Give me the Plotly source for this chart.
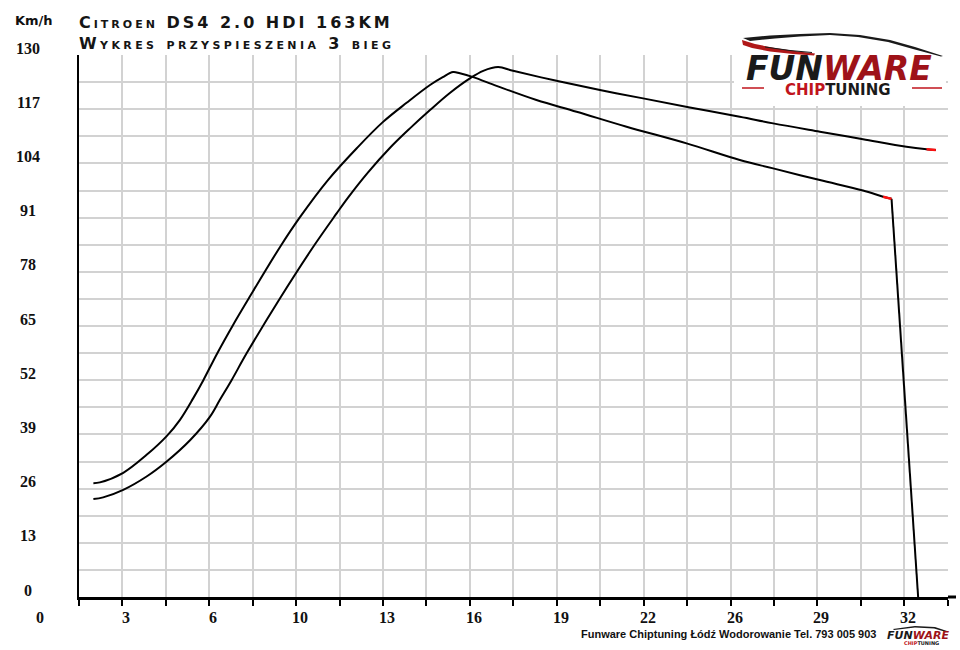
import plotly.graph_objects as go

# ---------------- data ----------------
time_a = [2.13, 2.37, 3.23, 4.09, 4.83, 5.32, 5.81, 6.18, 6.68, 7.27, 7.86, 9.00, 9.74, 10.77,
          11.84, 12.79, 13.68, 14.53, 15.00, 15.38, 15.63, 16.12, 16.98, 18.45, 19.93, 21.77,
          23.98, 25.94, 27.17, 28.89, 30.48, 31.22, 31.53, 32.51]
speed_a = [27.3, 27.5, 29.8, 34.1, 38.6, 42.5, 47.7, 52.0, 58.3, 65.2, 71.7, 83.9, 91.1, 100.0,
           107.7, 113.9, 118.6, 122.8, 124.7, 125.9, 125.6, 124.7, 122.6, 119.2, 116.4, 112.8,
           108.8, 104.8, 102.8, 100.0, 97.5, 96.0, 95.5, 0.0]

time_b = [2.13, 2.49, 3.23, 4.09, 4.83, 5.69, 6.42, 6.79, 7.22, 7.78, 9.00, 10.23, 11.09, 11.51,
          12.24, 13.05, 13.79, 14.53, 15.26, 16.00, 16.49, 17.04, 17.59, 19.19, 20.79, 22.38,
          24.10, 25.94, 27.17, 28.89, 30.48, 32.08, 32.82, 33.16]
speed_b = [23.5, 23.9, 25.7, 28.9, 32.5, 37.6, 43.2, 47.3, 52.0, 58.5, 71.6, 84.0, 92.0, 95.8,
           101.8, 107.7, 112.4, 116.8, 120.9, 124.4, 126.2, 127.1, 126.2, 123.8, 121.6, 119.6,
           117.4, 115.2, 113.6, 111.6, 109.8, 108.0, 107.4, 107.2]

x_tick_values = [0, 3.2, 6.4, 9.6, 12.8, 16.0, 19.2, 22.4, 25.6, 28.8, 32.0]
x_tick_labels = ["0", "3", "6", "10", "13", "16", "19", "22", "26", "29", "32"]
y_tick_values = [0, 13, 26, 39, 52, 65, 78, 91, 104, 117, 130]
y_tick_labels = ["0", "13", "26", "39", "52", "65", "78", "91", "104", "117", "130"]

title_line1 = "Citroen DS4 2.0 HDI 163KM"
title_line2 = "Wykres przyspieszenia 3 bieg"
footer_text = "Funware Chiptuning Łódź Wodorowanie Tel. 793 005 903"

# ---------------- layout geometry ----------------
W, H = 960, 650
L, R, T, B = 79, 948, 55, 597
X0, X1 = 1.6, 33.61


def px(xp):
    return (xp - L) / (R - L)


def py(yp):
    return (B - yp) / (B - T)


def xfrac(v):
    return (v - X0) / (X1 - X0)


fig = go.Figure()

line_main = dict(color="black", width=2, shape="spline", smoothing=1.0)
# curve A: smooth part up to the red end, then straight drop
fig.add_trace(go.Scatter(x=time_a[:-1], y=speed_a[:-1], mode="lines", line=line_main,
                         hoverinfo="skip", showlegend=False))
fig.add_trace(go.Scatter(x=time_a[-2:], y=speed_a[-2:], mode="lines",
                         line=dict(color="black", width=2), hoverinfo="skip", showlegend=False))
fig.add_trace(go.Scatter(x=time_b, y=speed_b, mode="lines", line=line_main,
                         hoverinfo="skip", showlegend=False))
# red end segments
fig.add_trace(go.Scatter(x=time_a[-3:-1], y=speed_a[-3:-1], mode="lines",
                         line=dict(color="#ff1010", width=2.5), hoverinfo="skip", showlegend=False))
fig.add_trace(go.Scatter(x=time_b[-2:], y=speed_b[-2:], mode="lines",
                         line=dict(color="#ff1010", width=2.5), hoverinfo="skip", showlegend=False))

annotations = []
label_font = dict(family="Liberation Serif", size=16, color="#111111", weight="bold")
for v, t in zip(x_tick_values, x_tick_labels):
    annotations.append(dict(x=xfrac(v), y=py(617), xref="paper", yref="paper", text=t,
                            showarrow=False, xanchor="center", yanchor="middle", xshift=4,
                            font=label_font))
for v, t in zip(y_tick_values, y_tick_labels):
    annotations.append(dict(x=px(28), y=v, xref="paper", yref="y", text=t,
                            showarrow=False, xanchor="center", yanchor="middle", yshift=7,
                            font=label_font))

annotations.append(dict(x=px(34), y=py(21), xref="paper", yref="paper", text="Km/h",
                        showarrow=False, xanchor="center", yanchor="middle",
                        font=dict(family="DejaVu Sans", size=13, color="#111111", weight="bold")))

title_font = dict(family="DejaVu Sans", size=16, color="#151515", variant="small-caps",
                  weight="bold")
annotations.append(dict(x=px(77), y=py(23), xref="paper", yref="paper",
                        text="<span style='letter-spacing:3px'>" + title_line1 + "</span>",
                        showarrow=False, xanchor="left", yanchor="middle", font=title_font))
annotations.append(dict(x=px(77), y=py(43), xref="paper", yref="paper",
                        text="<span style='letter-spacing:3.4px'>" + title_line2 + "</span>",
                        showarrow=False, xanchor="left", yanchor="middle", font=title_font))

# logo texts
annotations.append(dict(x=px(839), y=py(68), xref="paper", yref="paper",
                        text="<i>FUN<span style='color:#9e1218'>WARE</span></i>",
                        showarrow=False, xanchor="center", yanchor="middle",
                        font=dict(family="DejaVu Sans", size=33, color="#1a1a1a", weight="bold")))
annotations.append(dict(x=px(838), y=py(90), xref="paper", yref="paper",
                        text="<span style='color:#c0141c'>CHIP</span>TUNING",
                        showarrow=False, xanchor="center", yanchor="middle",
                        font=dict(family="DejaVu Sans", size=15, color="#1a1a1a", weight="bold")))

# footer
annotations.append(dict(x=px(878), y=py(634), xref="paper", yref="paper", text=footer_text,
                        showarrow=False, xanchor="right", yanchor="middle",
                        font=dict(family="Liberation Sans", size=11, color="#111111", weight="bold")))
annotations.append(dict(x=px(918), y=py(635), xref="paper", yref="paper",
                        text="<i>FUN<span style='color:#9e1218'>WARE</span></i>",
                        showarrow=False, xanchor="center", yanchor="middle",
                        font=dict(family="DejaVu Sans", size=11, color="#1a1a1a", weight="bold")))
annotations.append(dict(x=px(921), y=py(643), xref="paper", yref="paper",
                        text="<span style='color:#c0141c'>CHIP</span>TUNING",
                        showarrow=False, xanchor="center", yanchor="middle",
                        font=dict(family="DejaVu Sans", size=5, color="#1a1a1a", weight="bold")))


def path(points, close=True):
    s = "M " + " L ".join(f"{px(a):.4f},{py(b):.4f}" for a, b in points)
    return s + (" Z" if close else "")


shapes = [
    # white box behind logo
    dict(type="rect", xref="paper", yref="paper", x0=px(734), x1=px(946), y0=py(106), y1=py(24),
         fillcolor="white", line=dict(width=0), layer="above"),
    # car roof swoosh (black)
    dict(type="path", xref="paper", yref="paper", layer="above",
         path=path([(743, 38), (770, 35.5), (800, 34), (830, 33), (860, 35), (890, 40), (915, 47),
                    (943, 56), (941, 56.5), (913, 49), (888, 42), (858, 37), (830, 35), (800, 36.5),
                    (775, 38.5), (750, 41)]),
         fillcolor="#1a1a1a", line=dict(width=0)),
    # red swoosh
    dict(type="path", xref="paper", yref="paper", layer="above",
         path=path([(742, 40), (755, 44), (775, 48), (795, 51), (815, 53.5), (814, 55.5),
                    (793, 54), (770, 51.5), (752, 48), (743, 45)]),
         fillcolor="#b01818", line=dict(width=0)),
    # thin dark line under red swoosh
    dict(type="path", xref="paper", yref="paper", layer="above",
         path=path([(765, 47), (790, 50.5), (812, 52.5)], close=False),
         line=dict(color="#1a1a1a", width=1)),
    # red side lines beside CHIPTUNING
    dict(type="line", xref="paper", yref="paper", x0=px(742), x1=px(764), y0=py(88), y1=py(88),
         line=dict(color="#c0141c", width=1.5), layer="above"),
    dict(type="line", xref="paper", yref="paper", x0=px(912), x1=px(942), y0=py(88), y1=py(88),
         line=dict(color="#c0141c", width=1.5), layer="above"),
    # small footer swoosh
    dict(type="path", xref="paper", yref="paper", layer="above",
         path=path([(893, 629), (915, 626), (935, 627), (947, 631), (946, 632), (934, 628.5),
                    (915, 627.5), (894, 630)]),
         fillcolor="#1a1a1a", line=dict(width=0)),
    # bottom axis extension to the right
    dict(type="line", xref="paper", yref="paper", x0=1, x1=px(956), y0=0, y1=0,
         line=dict(color="black", width=3), layer="above"),
]

fig.update_layout(
    width=W, height=H,
    margin=dict(l=L, r=W - R, t=T, b=H - B, pad=0),
    paper_bgcolor="white", plot_bgcolor="white",
    showlegend=False,
    annotations=annotations,
    shapes=shapes,
)
fig.update_xaxes(range=[X0, X1], tick0=1.6, dtick=1.6, showticklabels=False,
                 showgrid=True, gridcolor="#d2d2d2", gridwidth=1.5,
                 showline=True, linecolor="black", linewidth=3,
                 ticks="outside", ticklen=6, tickwidth=1.5, tickcolor="black",
                 zeroline=False, fixedrange=True)
fig.update_yaxes(range=[0, 130], tick0=0, dtick=6.5, showticklabels=False,
                 showgrid=True, gridcolor="#d2d2d2", gridwidth=1.5,
                 showline=True, linecolor="black", linewidth=2,
                 ticks="", zeroline=False, fixedrange=True)

fig.write_html("out.html", config={"displayModeBar": False},
               post_script="document.body.style.margin='0px';")
